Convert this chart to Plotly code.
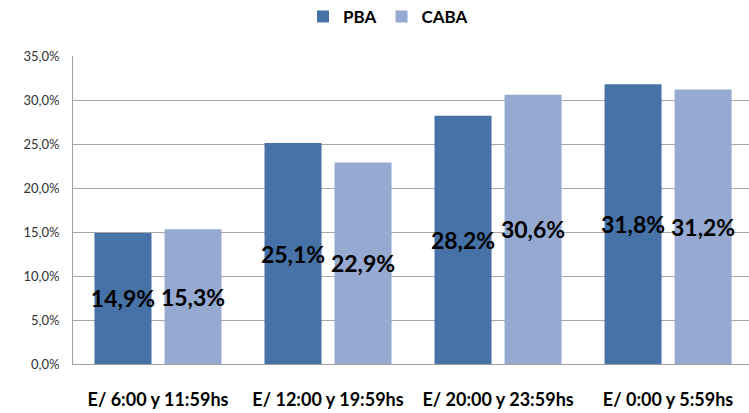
import plotly.graph_objects as go

categories = ["E/ 6:00 y 11:59hs", "E/ 12:00 y 19:59hs", "E/ 20:00 y 23:59hs", "E/ 0:00 y 5:59hs"]
pba = [14.9, 25.1, 28.2, 31.8]
caba = [15.3, 22.9, 30.6, 31.2]
y_ticks = [0, 5, 10, 15, 20, 25, 30, 35]
y_tick_text = [f"{v:.1f}%".replace(".", ",") for v in y_ticks]

FONT = "Lato"
fig = go.Figure()
for name, vals, color in [("PBA", pba, "#4672A8"), ("CABA", caba, "#95A9D1")]:
    fig.add_trace(go.Bar(
        name=name, x=categories, y=vals, marker=dict(color=color, line=dict(width=0)),
        texttemplate="%{y:.1f}%", textposition="inside", insidetextanchor="middle",
        textangle=0, constraintext="none", cliponaxis=False,
        textfont=dict(family=FONT, size=23, color="black", weight="bold"),
    ))

fig.update_layout(
    width=749, height=413,
    margin=dict(l=73, r=0, t=56, b=49, autoexpand=False),
    paper_bgcolor="white", plot_bgcolor="white",
    separators=",.",
    barmode="group", bargap=0.176, bargroupgap=0.186,
    showlegend=True,
    legend=dict(orientation="h", x=0.466, xanchor="center",
                y=1.127, yanchor="middle", itemwidth=30,
                font=dict(family=FONT, size=17, color="black", weight="bold"),
                traceorder="normal"),
    xaxis=dict(range=[-0.5, 3.476], showgrid=False, showline=True, linecolor="#A0A0A0", linewidth=1,
               ticks="", automargin=False,
               tickfont=dict(family=FONT, size=18, color="black", weight="bold"), ticklabelstandoff=19),
    yaxis=dict(range=[0, 35], tickvals=y_ticks, ticktext=y_tick_text, automargin=False,
               showgrid=True, gridcolor="#A6A6A6", gridwidth=1, showline=True, linecolor="#A0A0A0",
               linewidth=1, zeroline=False, ticks="",
               tickfont=dict(family=FONT, size=13, color="#333333"), ticklabelstandoff=10),
)
fig.write_html("out.html", config={"displayModeBar": False},
               post_script="document.body.style.margin='0';")
